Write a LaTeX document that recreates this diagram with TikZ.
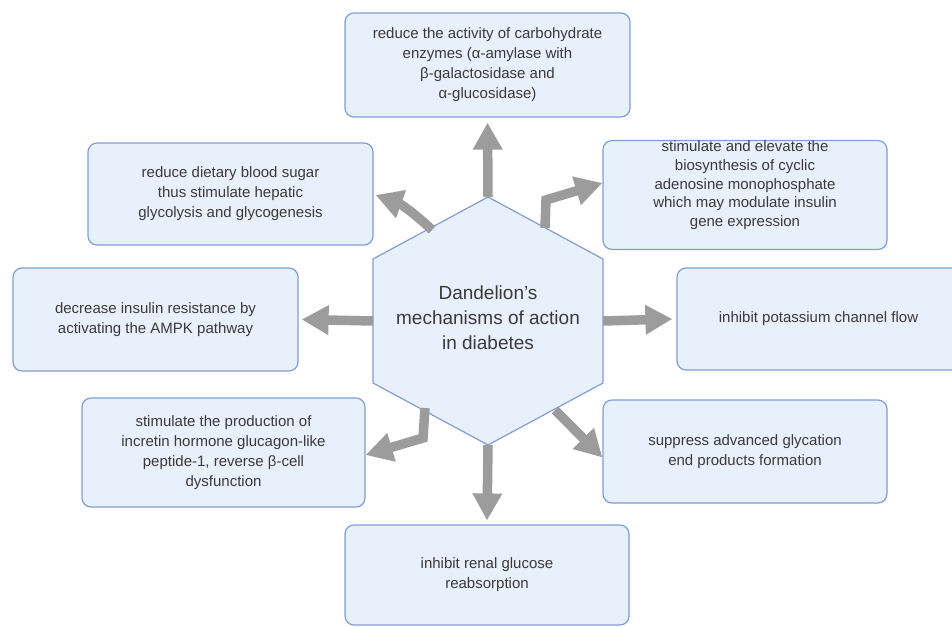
\documentclass[tikz,border=0pt]{standalone}
\usepackage{fontspec}
\setmainfont{Liberation Sans}
\usepackage{tikz}
\usetikzlibrary{arrows.meta, positioning}
\definecolor{boxfill}{RGB}{232, 240, 251}
\definecolor{boxline}{RGB}{128, 158, 212}
\definecolor{arrowgray}{RGB}{156, 156, 156}
\definecolor{textgray}{RGB}{58, 58, 58}

\begin{document}
\begin{tikzpicture}[
    x=1pt, y=-1pt,
    effect/.style={draw=boxline, fill=boxfill, line width=1.2pt, rounded corners=9pt, text=textgray, align=center, inner sep=0pt, font=\fontsize{15}{20}\selectfont},
    hexa/.style={draw=boxline, fill=boxfill, line width=1.2pt},
    hublabel/.style={text=textgray, align=center, font=\fontsize{19}{25}\selectfont},
    flow/.style={draw=arrowgray, line width=9.5pt, -{Triangle[width=28pt, length=27pt]}}
]
    \useasboundingbox (0,0) rectangle (952,626);

    % Central hexagon
    \coordinate (c) at (488,321);
    \draw[hexa] (c) ++(0,-124) coordinate (hT) -- ++(115,62) coordinate (hTR) -- ++(0,124) coordinate (hBR)
        -- ++(-115,62) coordinate (hB) -- ++(-115,-62) coordinate (hBL) -- ++(0,-124) coordinate (hTL) -- cycle;
    \coordinate (hL) at (373,321);
    \coordinate (hR) at (603,321);
    \coordinate (trStart) at (545,228);
    \coordinate (tlStart) at (432,230);
    \coordinate (blStart) at (425,408);
    \coordinate (brStart) at (555,410);

    % Effects
    \node[effect, minimum width=285pt, minimum height=104pt] (enzymes) at (487.5,65) {reduce the activity of carbohydrate\\enzymes (α-amylase with\\β-galactosidase and\\α-glucosidase)};
    \node[effect, minimum width=285pt, minimum height=102pt] (sugar) at (230.5,194) {reduce dietary blood sugar\\thus stimulate hepatic\\glycolysis and glycogenesis};
    \node[effect, minimum width=284pt, minimum height=104pt, font=\fontsize{15}{18.8}\selectfont] (camp) at (745,195) {stimulate and elevate the\\biosynthesis of cyclic\\adenosine monophosphate\\which may modulate insulin\\gene expression\\[4pt]\mbox{}};
    \node[effect, minimum width=285pt, minimum height=103pt] (ampk) at (155.5,319.5) {decrease insulin resistance by\\activating the AMPK pathway};
    \node[effect, minimum width=283pt, minimum height=102pt] (potassium) at (818.5,319) {inhibit potassium channel flow};
    \node[effect, minimum width=283pt, minimum height=109pt] (glp) at (223.5,452.5) {stimulate the production of\\incretin hormone glucagon-like\\peptide-1, reverse β-cell\\dysfunction};
    \node[effect, minimum width=284pt, minimum height=103pt] (age) at (745,451.5) {suppress advanced glycation\\end products formation};
    \node[effect, minimum width=284pt, minimum height=100pt] (renal) at (487,575) {inhibit renal glucose\\reabsorption};

    % Mechanism arrows
    \draw[flow] (hT) -- ([yshift=-5pt]enzymes.south);
    \draw[flow] (trStart) -- ++(1,-28) -- ([yshift=12pt]camp.west);
    \draw[flow] (tlStart) to[bend right=12] ([xshift=2pt, yshift=-1pt]sugar.east);
    \draw[flow] (hL) -- ([xshift=3pt]ampk.east);
    \draw[flow] (hR) -- ([xshift=-4pt]potassium.west);
    \draw[flow] (blStart) -- ++(-2,30) -- ([yshift=-2.5pt]glp.east);
    \draw[flow] (brStart) -- ([yshift=-6pt]age.west);
    \draw[flow] (hB) -- ([yshift=4pt]renal.north);

    \node[hublabel] (hub) at (488,318) {Dandelion's\\mechanisms of action\\in diabetes};
\end{tikzpicture}
\end{document}
